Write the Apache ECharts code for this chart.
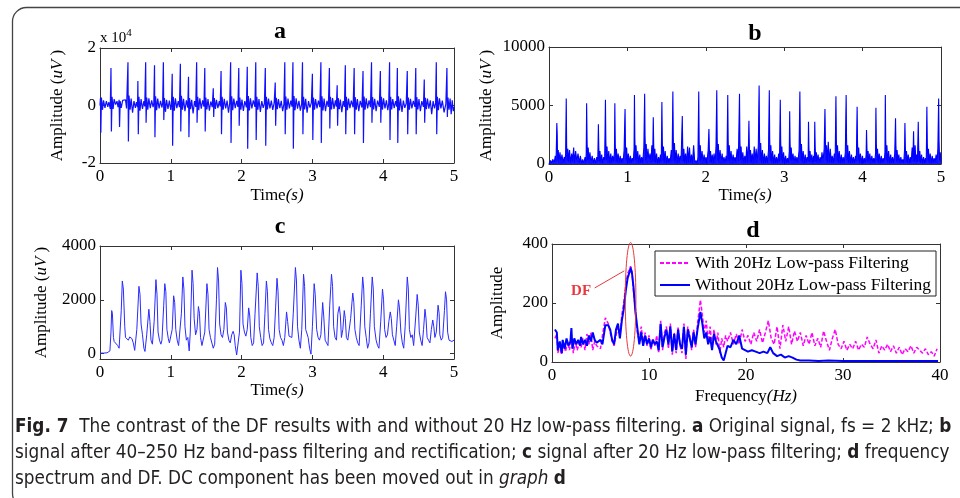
<!DOCTYPE html>
<html>
<head>
<meta charset="utf-8">
<script src="https://cdn.jsdelivr.net/npm/echarts@6.0.0/dist/echarts.min.js"></script>
<style>
  html, body { margin: 0; padding: 0; background: #fff; }
  #fig { width: 960px; height: 498px; }
</style>
</head>
<body>
<div id="fig"></div>
<script>
// ---- data ----
// a: original signal, [time s, amplitude uV]
var sigA = [[0,0],[0.006,2500],[0.012,-9500],[0.02,2800],[0.035,-1500],[0.05,1800],[0.07,-800],[0.09,1500],[0.11,-500],[0.125,1200],
  [0.145,-1200],[0.155,13000],[0.161,-9000],[0.17,3000],[0.185,-1200],[0.2,2200],[0.22,300],[0.24,1500],[0.255,-600],
  [0.27,2000],[0.276,-7500],[0.285,1500],[0.3,-800],[0.32,1800],[0.34,1200],[0.36,2000],[0.375,-1000],
  [0.39,-500],[0.395,15000],[0.401,-12500],[0.41,3500],[0.425,-1500],[0.44,2400],[0.46,-2500],[0.48,1500],[0.5,-800],[0.515,1200],
  [0.53,-600],[0.535,8500],[0.541,-10000],[0.55,3000],[0.565,-1800],[0.58,2200],[0.6,-1200],[0.62,1500],[0.632,-300],
  [0.645,15000],[0.651,-6000],[0.66,2800],[0.675,-1500],[0.69,2500],[0.71,-900],[0.73,1800],[0.75,-600],[0.76,800],
  [0.77,14000],[0.776,-11000],[0.785,3200],[0.8,-1600],[0.815,2400],[0.835,-1000],[0.855,1600],[0.875,-700],[0.885,900],
  [0.895,15000],[0.901,-5000],[0.91,2600],[0.925,-2200],[0.94,2000],[0.96,-1200],[0.98,1700],[1.0,-1500],[1.01,600],
  [1.02,11000],[1.026,-14000],[1.035,3000],[1.05,-1800],[1.065,2500],[1.085,-900],[1.105,1500],[1.122,-600],
  [1.135,14500],[1.141,-9000],[1.15,3400],[1.165,-1500],[1.18,2300],[1.2,-2000],[1.22,1800],[1.24,-700],
  [1.25,10000],[1.256,-11000],[1.265,2600],[1.28,-1300],[1.295,2000],[1.315,-2800],[1.335,1500],[1.352,-500],
  [1.365,15000],[1.371,-6000],[1.38,3000],[1.395,-1600],[1.41,2500],[1.43,-1100],[1.45,1800],[1.468,-400],
  [1.48,13000],[1.486,-9000],[1.495,2800],[1.51,-1400],[1.525,2200],[1.545,-1800],[1.565,1400],[1.585,-600],
  [1.6,6000],[1.606,-4000],[1.615,2600],[1.63,-1200],[1.645,2000],[1.665,-900],[1.685,1500],[1.698,-300],
  [1.71,12000],[1.716,-10000],[1.725,3000],[1.74,-1500],[1.755,2300],[1.775,-1000],[1.795,1700],[1.815,-2500],[1.832,800],
  [1.845,15000],[1.851,-13000],[1.86,3200],[1.875,-1600],[1.89,2400],[1.91,-900],[1.93,1600],[1.948,-500],
  [1.96,13000],[1.966,-7000],[1.975,2800],[1.99,-1500],[2.005,2100],[2.025,-1900],[2.045,1500],[2.068,-600],
  [2.08,13500],[2.086,-15000],[2.095,3300],[2.11,-1700],[2.125,2500],[2.145,-1000],[2.165,1800],[2.188,-500],
  [2.2,15000],[2.206,-12000],[2.215,3000],[2.23,-1500],[2.245,2200],[2.265,-2200],[2.285,1500],[2.305,-800],[2.322,700],
  [2.335,13000],[2.341,-14000],[2.35,3000],[2.365,-1400],[2.38,2400],[2.4,-1000],[2.42,1700],[2.44,-1500],[2.46,900],
  [2.475,8000],[2.481,-7000],[2.49,2700],[2.505,-1300],[2.52,2200],[2.54,-900],[2.56,1600],[2.58,-2000],[2.598,600],
  [2.61,15000],[2.616,-10000],[2.625,3100],[2.64,-1500],[2.655,2400],[2.675,-1000],[2.695,1700],[2.712,-400],
  [2.725,15000],[2.731,-15000],[2.74,3300],[2.755,-1600],[2.77,2500],[2.79,-1100],[2.81,1600],[2.83,-1800],[2.848,500],
  [2.86,15000],[2.866,-10000],[2.875,3000],[2.89,-1400],[2.905,2300],[2.925,-2500],[2.945,1500],[2.965,-700],[2.985,900],
  [3.0,11000],[3.006,-12000],[3.015,2800],[3.03,-1500],[3.045,2200],[3.065,-1000],[3.085,1700],[3.105,-600],
  [3.12,15000],[3.126,-13000],[3.135,3200],[3.15,-1700],[3.165,2400],[3.185,-2000],[3.205,1600],[3.225,-500],
  [3.24,13000],[3.246,-8000],[3.255,3000],[3.27,-1400],[3.285,2600],[3.305,-1200],[3.325,1800],[3.338,-400],
  [3.35,7000],[3.356,-7000],[3.365,2600],[3.38,-1300],[3.395,2100],[3.415,-2300],[3.435,1500],[3.452,-500],
  [3.465,14000],[3.471,-10000],[3.48,3000],[3.495,-1600],[3.51,2400],[3.53,-900],[3.55,1700],[3.575,-600],
  [3.59,13000],[3.596,-10000],[3.605,2900],[3.62,-1500],[3.635,2200],[3.655,-2000],[3.675,1600],[3.7,-700],
  [3.715,12000],[3.721,-13000],[3.73,3100],[3.745,-1500],[3.76,2500],[3.78,-1000],[3.8,1800],[3.82,-600],
  [3.835,15000],[3.841,-6000],[3.85,2900],[3.865,-1400],[3.88,2300],[3.9,-2000],[3.92,1700],[3.945,-500],
  [3.96,12000],[3.966,-6000],[3.975,3000],[3.99,-1500],[4.005,2500],[4.025,-1000],[4.045,1800],[4.065,-1600],[4.078,600],
  [4.09,15000],[4.096,-12000],[4.105,3000],[4.12,-1400],[4.135,2200],[4.155,-900],[4.175,1500],[4.19,-400],
  [4.2,13000],[4.206,-13000],[4.215,3200],[4.23,-1700],[4.245,2400],[4.265,-2200],[4.285,1700],[4.305,-800],[4.325,700],
  [4.34,12000],[4.346,-10000],[4.355,2800],[4.37,-1500],[4.385,2300],[4.405,-1000],[4.425,1600],[4.448,-500],
  [4.46,13000],[4.466,-10000],[4.475,2900],[4.49,-1400],[4.505,2200],[4.525,-2000],[4.545,1500],[4.568,-500],
  [4.58,9000],[4.586,-6000],[4.595,2700],[4.61,-1300],[4.625,2400],[4.645,-1100],[4.665,1800],[4.685,-3000],[4.705,1500],[4.725,-1000],[4.74,700],
  [4.75,15000],[4.756,-10000],[4.765,3000],[4.78,-1600],[4.795,2500],[4.815,-1000],[4.835,1700],[4.86,-2400],[4.885,600],
  [4.9,13000],[4.906,-4000],[4.915,2800],[4.93,-1500],[4.945,2400],[4.96,-3000],[4.975,1800],[4.99,-2000],[5.0,-500]];

// b: after band-pass filtering and rectification
var sigB = [[0,0],[0.02,300],[0.03,50],[0.05,400],[0.065,50],[0.08,700],
  [0.09,200],[0.1,3500],[0.104,2700],[0.11,300],[0.118,1200],[0.128,100],[0.14,1000],[0.152,50],[0.165,800],[0.18,100],[0.195,600],[0.205,100],
  [0.212,900],[0.22,5600],[0.225,1600],[0.232,300],[0.24,1300],[0.25,200],[0.262,1200],[0.275,100],[0.29,900],[0.3,200],[0.315,1400],[0.325,100],[0.34,1100],[0.355,200],[0.37,900],[0.385,100],[0.4,700],[0.415,50],[0.43,400],[0.445,50],[0.46,600],[0.47,100],
  [0.475,1000],[0.48,5200],[0.486,1800],[0.492,300],[0.5,1400],[0.51,100],[0.522,1000],[0.535,50],[0.55,700],[0.565,100],[0.58,500],[0.595,50],[0.61,600],[0.622,200],
  [0.63,3400],[0.635,1500],[0.642,200],[0.65,1100],[0.66,100],[0.672,800],[0.685,50],[0.698,600],[0.71,300],
  [0.72,5500],[0.725,2000],[0.732,300],[0.74,1500],[0.75,100],[0.762,1100],[0.775,50],[0.788,900],[0.8,100],[0.812,700],[0.825,200],[0.835,1000],
  [0.84,5200],[0.845,1700],[0.852,200],[0.86,1300],[0.87,100],[0.882,900],[0.895,50],[0.908,700],[0.92,100],[0.932,500],[0.945,100],[0.958,1200],
  [0.97,4700],[0.975,1600],[0.982,300],[0.99,1400],[1.0,100],[1.012,900],[1.025,50],[1.038,700],[1.05,100],[1.062,500],[1.075,200],[1.085,1300],
  [1.09,5900],[1.095,2200],[1.102,300],[1.11,1600],[1.12,100],[1.132,1100],[1.145,50],[1.158,800],[1.17,100],[1.182,600],[1.195,100],[1.21,1400],
  [1.22,6000],[1.225,2400],[1.232,300],[1.24,1700],[1.25,100],[1.262,1300],[1.275,200],[1.288,900],[1.3,100],[1.312,1600],[1.322,200],
  [1.33,4000],[1.335,1800],[1.342,200],[1.35,1300],[1.36,100],[1.372,900],[1.385,50],[1.398,600],[1.41,100],[1.422,800],[1.432,200],
  [1.44,5300],[1.445,2000],[1.452,300],[1.46,1500],[1.47,100],[1.482,1100],[1.495,50],[1.508,700],[1.52,100],[1.532,500],[1.545,100],[1.56,1200],[1.57,200],
  [1.58,6200],[1.585,2300],[1.592,300],[1.6,1800],[1.61,100],[1.622,1200],[1.635,50],[1.648,900],[1.66,100],[1.672,700],[1.685,300],
  [1.7,4100],[1.705,1700],[1.712,200],[1.72,1300],[1.73,100],[1.742,900],[1.755,50],[1.768,1500],[1.78,100],[1.792,1400],[1.805,100],[1.818,800],[1.83,50],[1.845,1600],[1.86,50],[1.875,300],[1.89,0],[1.9,600],
  [1.91,6200],[1.915,2000],[1.922,300],[1.93,1600],[1.94,100],[1.952,1100],[1.965,50],[1.978,800],[1.99,100],[2.002,600],[2.015,100],[2.03,1200],
  [2.04,3000],[2.045,1400],[2.052,200],[2.06,1100],[2.07,100],[2.082,800],[2.095,50],[2.105,900],[2.12,100],[2.13,1500],
  [2.14,6300],[2.145,2200],[2.152,300],[2.16,1700],[2.17,100],[2.182,1200],[2.195,50],[2.208,900],[2.22,100],[2.232,600],[2.245,100],[2.26,700],[2.27,200],
  [2.28,5900],[2.285,2100],[2.292,300],[2.3,1600],[2.31,100],[2.322,1100],[2.335,50],[2.348,800],[2.36,100],[2.372,600],[2.385,100],[2.4,1300],[2.415,200],
  [2.43,6000],[2.435,2000],[2.442,300],[2.45,1500],[2.46,100],[2.472,1000],[2.485,50],[2.498,700],[2.51,100],[2.522,1500],[2.535,100],[2.545,1800],
  [2.55,3700],[2.555,1600],[2.562,200],[2.57,1200],[2.58,100],[2.592,900],[2.605,50],[2.618,1500],[2.63,100],[2.642,1300],[2.655,100],[2.67,1600],
  [2.68,6700],[2.685,2400],[2.692,300],[2.7,1800],[2.71,100],[2.722,1200],[2.735,50],[2.748,900],[2.76,100],[2.772,700],[2.785,100],[2.8,1200],
  [2.81,6300],[2.815,2200],[2.822,300],[2.83,1600],[2.84,100],[2.852,1100],[2.865,50],[2.878,800],[2.89,100],[2.902,600],[2.915,100],[2.93,900],[2.94,200],
  [2.95,5500],[2.955,2000],[2.962,300],[2.97,1500],[2.98,100],[2.992,1000],[3.005,50],[3.018,700],[3.03,100],[3.042,500],[3.055,100],[3.065,1100],
  [3.07,4500],[3.075,1800],[3.082,300],[3.09,1400],[3.1,100],[3.112,900],[3.125,50],[3.138,700],[3.15,100],[3.162,600],[3.175,100],[3.19,1200],
  [3.2,6200],[3.205,2300],[3.212,300],[3.22,1700],[3.23,100],[3.242,1100],[3.255,50],[3.268,800],[3.28,100],[3.292,600],[3.305,200],
  [3.31,3600],[3.315,1500],[3.322,200],[3.33,1100],[3.34,100],[3.352,800],[3.365,50],[3.375,700],[3.385,200],
  [3.39,3600],[3.395,1500],[3.402,200],[3.41,1000],[3.42,100],[3.432,800],[3.445,50],[3.458,600],[3.47,100],[3.482,1000],[3.495,200],[3.51,1300],
  [3.52,4700],[3.525,2000],[3.532,300],[3.54,1600],[3.55,100],[3.562,1900],[3.575,100],[3.588,1300],[3.6,100],[3.612,700],[3.625,100],[3.64,900],[3.65,200],
  [3.66,5800],[3.665,2100],[3.672,300],[3.68,1600],[3.69,100],[3.702,1100],[3.715,50],[3.728,800],[3.74,100],[3.752,600],[3.765,100],[3.78,1000],
  [3.79,5900],[3.795,2200],[3.802,300],[3.81,1600],[3.82,100],[3.832,1100],[3.845,50],[3.858,800],[3.87,100],[3.882,600],[3.895,100],[3.91,700],[3.92,200],
  [3.93,4900],[3.935,1900],[3.942,300],[3.95,1400],[3.96,100],[3.972,900],[3.985,50],[3.998,700],[4.01,100],[4.022,500],[4.035,100],[4.045,800],
  [4.05,2900],[4.055,1400],[4.062,200],[4.07,1100],[4.08,100],[4.092,900],[4.105,50],[4.118,700],[4.13,100],[4.142,500],[4.155,100],[4.165,900],
  [4.17,4800],[4.175,1800],[4.182,300],[4.19,1300],[4.2,100],[4.212,900],[4.225,50],[4.238,700],[4.25,100],[4.262,500],[4.275,100],[4.285,1000],
  [4.29,5900],[4.295,2100],[4.302,300],[4.31,1600],[4.32,100],[4.332,1100],[4.345,50],[4.358,800],[4.37,100],[4.382,600],[4.395,100],[4.41,900],
  [4.42,3900],[4.425,1600],[4.432,200],[4.44,1200],[4.45,100],[4.462,800],[4.475,50],[4.488,600],[4.5,100],[4.512,400],[4.525,100],[4.535,1200],
  [4.54,3500],[4.545,1500],[4.552,200],[4.56,1100],[4.57,100],[4.582,800],[4.595,50],[4.608,600],[4.62,100],[4.632,1400],[4.642,200],
  [4.65,2800],[4.655,1200],[4.662,200],[4.67,1600],[4.68,100],[4.69,800],[4.7,200],
  [4.71,3600],[4.715,1500],[4.722,200],[4.73,1100],[4.74,100],[4.752,800],[4.765,50],[4.778,600],[4.79,100],[4.802,500],[4.812,100],
  [4.82,4900],[4.825,1800],[4.832,300],[4.84,1300],[4.85,100],[4.862,900],[4.875,50],[4.888,700],[4.9,100],[4.912,500],[4.925,100],[4.938,800],[4.95,100],[4.96,1300],
  [4.97,5600],[4.975,2000],[4.982,300],[4.99,1000],[5.0,200]];

// c: after 20 Hz low-pass filtering
var sigC = [[0,20],[0.05,20],[0.1,30],[0.12,50],[0.14,100],[0.155,800],[0.165,1600],[0.175,1500],[0.19,600],[0.2,450],[0.22,480],[0.25,300],[0.27,200],
  [0.3,1600],[0.315,2700],[0.33,2400],[0.35,1000],[0.36,600],[0.38,550],[0.4,500],[0.42,620],[0.45,560],[0.47,400],[0.49,120],[0.505,80],
  [0.52,900],[0.55,2500],[0.565,2200],[0.58,1100],[0.6,700],[0.62,200],[0.635,80],[0.66,700],[0.69,1650],[0.705,1200],[0.72,500],[0.74,350],
  [0.765,1200],[0.79,2750],[0.805,2200],[0.82,800],[0.84,500],[0.86,350],[0.875,500],[0.9,1800],[0.915,2600],[0.93,2300],[0.945,900],[0.965,550],[0.98,400],[1.0,350],
  [1.02,900],[1.04,2150],[1.055,1900],[1.07,900],[1.09,500],[1.11,300],[1.13,350],[1.15,1500],[1.17,2850],[1.185,2400],[1.2,1000],[1.22,500],[1.24,600],[1.26,100],
  [1.275,800],[1.3,3100],[1.315,2600],[1.33,1300],[1.35,700],[1.37,900],[1.39,1750],[1.405,1500],[1.42,600],[1.44,300],[1.46,250],[1.48,800],[1.51,2600],[1.525,2200],
  [1.54,900],[1.56,600],[1.58,550],[1.6,200],[1.62,350],[1.645,2000],[1.66,3200],[1.675,2700],[1.69,1100],[1.71,700],[1.73,600],[1.75,900],[1.77,1900],[1.785,1700],
  [1.8,800],[1.82,500],[1.84,400],[1.86,700],[1.88,830],[1.895,700],[1.91,300],[1.93,-50],[1.95,-120],[1.97,800],[1.99,3100],[2.005,2600],[2.02,1100],[2.04,800],
  [2.06,650],[2.08,900],[2.1,1700],[2.115,1400],[2.13,600],[2.15,300],[2.17,400],[2.19,1500],[2.22,3000],[2.235,2500],[2.25,1000],[2.27,600],[2.29,300],[2.31,400],
  [2.33,1500],[2.35,2700],[2.365,2300],[2.38,900],[2.4,550],[2.42,400],[2.44,300],[2.46,600],[2.48,1700],[2.5,2800],[2.515,2300],[2.53,900],[2.55,600],[2.57,500],
  [2.59,300],[2.61,600],[2.635,1550],[2.65,1200],[2.67,650],[2.69,700],[2.71,600],[2.73,1500],[2.76,3200],[2.775,2700],[2.79,1000],[2.81,500],[2.83,200],[2.85,900],
  [2.875,2950],[2.89,2500],[2.905,900],[2.925,900],[2.94,600],[2.96,200],[2.98,-20],[3.0,1000],[3.025,2600],[3.04,2200],[3.06,900],[3.08,600],[3.1,500],[3.12,700],
  [3.145,1900],[3.16,1400],[3.18,500],[3.2,400],[3.22,300],[3.245,1800],[3.27,2950],[3.285,2500],[3.3,1000],[3.32,600],[3.34,500],[3.36,1500],[3.38,1750],[3.395,1400],
  [3.41,600],[3.43,900],[3.45,1600],[3.465,1300],[3.48,600],[3.5,500],[3.52,550],[3.54,1300],[3.57,2250],[3.585,1900],[3.6,900],[3.62,600],[3.64,400],[3.66,300],
  [3.69,1800],[3.71,2850],[3.725,2400],[3.74,1000],[3.76,600],[3.78,200],[3.8,400],[3.82,1500],[3.845,2850],[3.86,2400],[3.875,1000],[3.9,500],[3.92,300],[3.94,200],
  [3.965,1200],[3.99,2400],[4.005,2000],[4.02,900],[4.04,600],[4.06,700],[4.08,1200],[4.1,1550],[4.115,1300],[4.13,700],[4.15,500],[4.17,300],[4.19,1000],[4.215,2000],
  [4.23,1700],[4.25,800],[4.27,400],[4.29,200],[4.31,1000],[4.34,2850],[4.355,2400],[4.37,900],[4.39,600],[4.41,700],[4.43,300],[4.46,1400],[4.48,2200],[4.495,1800],
  [4.51,800],[4.53,500],[4.55,300],[4.57,900],[4.59,1650],[4.605,1300],[4.62,600],[4.64,500],[4.66,400],[4.68,900],[4.7,1250],[4.715,1000],[4.73,600],[4.75,800],
  [4.775,1800],[4.79,1500],[4.8,700],[4.82,500],[4.84,600],[4.865,1600],[4.88,2300],[4.895,2000],[4.91,800],[4.93,500],[4.95,550],[4.97,450],[5.0,500]];

// d: frequency spectra, [Hz, amplitude]
var specWith = [[0.3,80],[0.5,95],[0.6,30],[0.8,55],[1.0,25],[1.2,60],[1.4,35],[1.6,70],[1.8,40],[2.0,90],[2.2,30],[2.4,70],[2.6,40],[2.8,65],[3.0,50],
  [3.2,80],[3.4,40],[3.6,95],[3.8,60],[4.0,100],[4.2,40],[4.4,70],[4.6,55],[4.8,50],[5.0,45],[5.2,90],[5.5,150],[5.8,130],[6.0,100],[6.2,70],[6.4,55],
  [6.6,90],[6.8,120],[7.0,85],[7.2,160],[7.4,200],[7.6,260],[7.8,300],[8.0,315],[8.1,325],[8.25,305],[8.4,240],[8.6,180],[8.8,100],[9.0,70],[9.2,120],
  [9.4,60],[9.6,100],[9.8,55],[10.0,90],[10.2,40],[10.4,80],[10.6,55],[10.8,90],[11.0,30],[11.2,140],[11.4,40],[11.6,100],[11.8,120],[12.0,45],[12.2,130],
  [12.4,25],[12.6,100],[12.8,30],[13.0,120],[13.2,55],[13.4,30],[13.6,130],[13.8,10],[14.0,120],[14.2,90],[14.4,40],[14.6,110],[14.8,50],[15.0,130],[15.3,210],
  [15.5,160],[15.7,100],[15.9,140],[16.1,70],[16.3,120],[16.5,50],[16.7,110],[16.9,60],[17.1,100],[17.3,30],[17.5,80],[17.7,50],[17.9,90],[18.1,70],[18.4,100],
  [18.7,60],[19.0,95],[19.3,60],[19.6,110],[19.9,70],[20.2,90],[20.5,60],[20.8,100],[21.1,70],[21.4,110],[21.7,65],[22.0,100],[22.3,140],[22.6,80],[22.9,60],
  [23.2,120],[23.5,45],[23.8,125],[24.1,70],[24.4,120],[24.7,60],[25.0,105],[25.3,70],[25.6,100],[25.9,55],[26.2,90],[26.5,60],[26.8,100],[27.1,55],[27.4,80],
  [27.7,50],[28.0,105],[28.3,70],[28.6,40],[28.9,80],[29.2,110],[29.5,60],[29.8,45],[30.1,70],[30.4,40],[30.7,60],[31.0,45],[31.3,70],[31.6,40],[31.9,60],
  [32.2,50],[32.5,85],[32.8,60],[33.1,45],[33.4,75],[33.7,30],[34.0,55],[34.3,40],[34.6,60],[34.9,35],[35.2,55],[35.5,30],[35.8,50],[36.1,25],[36.4,45],
  [36.7,35],[37.0,55],[37.3,30],[37.6,50],[37.9,40],[38.2,30],[38.5,45],[38.8,25],[39.1,35],[39.4,20],[39.7,45]];
var specWithout = [[0.3,110],[0.5,100],[0.6,40],[0.8,70],[1.0,30],[1.1,75],[1.3,45],[1.5,80],[1.7,55],[1.9,70],[2.0,115],[2.1,45],[2.3,80],[2.5,60],[2.7,75],
  [2.9,55],[3.0,85],[3.2,60],[3.4,75],[3.6,55],[3.8,90],[4.0,70],[4.2,100],[4.4,75],[4.6,65],[4.8,60],[5.0,75],[5.2,60],[5.5,125],[5.8,125],[6.0,110],
  [6.2,75],[6.4,60],[6.6,110],[6.8,130],[7.0,80],[7.2,140],[7.4,180],[7.6,240],[7.8,285],[8.0,305],[8.1,320],[8.25,300],[8.4,255],[8.6,170],[8.8,115],
  [9.0,60],[9.2,100],[9.4,55],[9.6,90],[9.8,60],[10.0,80],[10.2,50],[10.4,75],[10.6,60],[10.8,70],[11.0,40],[11.2,130],[11.4,50],[11.6,85],[11.8,110],
  [12.0,60],[12.2,120],[12.4,35],[12.6,95],[12.8,40],[13.0,110],[13.2,60],[13.4,45],[13.6,120],[13.8,25],[14.0,110],[14.2,80],[14.4,50],[14.6,100],[14.8,60],
  [15.0,110],[15.3,170],[15.5,130],[15.7,80],[15.9,100],[16.1,60],[16.3,85],[16.5,40],[16.7,95],[16.9,70],[17.1,75],[17.3,40],[17.5,15],[17.7,5],[17.9,30],
  [18.1,55],[18.4,50],[18.7,75],[19.0,60],[19.3,90],[19.6,45],[19.9,40],[20.2,35],[20.6,40],[21.0,35],[21.4,30],[21.8,35],[22.2,30],[22.5,50],[22.8,30],
  [23.2,20],[23.6,25],[24.0,15],[24.4,20],[24.8,15],[25.2,8],[25.6,5],[26.5,5],[27.5,3],[28.5,5],[30,3],[32,3],[34,3],[36,3],[38,3],[39.8,3]];

var legendNames = ['With 20Hz Low-pass Filtering', 'Without 20Hz Low-pass Filtering'];
var cTicks = [0, 2000, 4000];
// DF marker: dominant frequency and the ellipse drawn round it
var dfFreq = 8.1, dfHalfWidth = 0.55, dfLow = 20, dfHigh = 405;
var dfLabelAt = [3.0, 240], dfLineFrom = [4.4, 251], dfLineTo = [7.45, 309];

var serif = "'Liberation Serif', 'Times New Roman', serif";
var capFont = "'DejaVu Sans Condensed', 'Liberation Sans', sans-serif";
var capSize = 18.8;
var axisCol = '#333';
var plain = function (v) { return String(v); };

function xAx(grid, min, max, step, top, name, gap) {
  return {
    type: 'value', gridIndex: grid, min: min, max: max, interval: step,
    position: top ? 'top' : 'bottom',
    axisLine: { show: true, onZero: false, lineStyle: { color: axisCol, width: 1 } },
    axisTick: { show: true, inside: true, length: 4, lineStyle: { color: axisCol } },
    axisLabel: { show: !top, margin: 5, color: '#000', fontFamily: serif, fontSize: 17, formatter: plain },
    splitLine: { show: false },
    name: top ? '' : name, nameLocation: 'middle', nameGap: gap,
    nameTextStyle: { color: '#000', fontFamily: serif, fontSize: 17,
      rich: { i: { fontStyle: 'italic', fontFamily: serif, fontSize: 17, color: '#000' } } }
  };
}
function yAx(grid, min, max, step, right, name, gap, fmt) {
  return {
    type: 'value', gridIndex: grid, min: min, max: max, interval: step,
    position: right ? 'right' : 'left',
    axisLine: { show: true, onZero: false, lineStyle: { color: axisCol, width: 1 } },
    axisTick: { show: true, inside: true, length: 4, lineStyle: { color: axisCol } },
    axisLabel: { show: !right, margin: 4, color: '#000', fontFamily: serif, fontSize: 17, formatter: fmt || plain },
    splitLine: { show: false },
    name: right ? '' : name, nameLocation: 'middle', nameGap: gap,
    nameTextStyle: { color: '#000', fontFamily: serif, fontSize: 17,
      rich: { i: { fontStyle: 'italic', fontFamily: serif, fontSize: 17, color: '#000' } } }
  };
}

var ampName = 'Amplitude ({i|uV })';
var yC = yAx(2, -200, 4000, 2000, false, ampName, 50);
yC.axisLabel.customValues = cTicks;
yC.axisTick.customValues = cTicks;
var yCr = yAx(2, -200, 4000, 2000, true, '', 0);
yCr.axisLabel.customValues = cTicks;
yCr.axisTick.customValues = cTicks;

var option = {
  animation: false,
  backgroundColor: '#fff',
  grid: [
    { left: 100, top: 48, width: 354, height: 115 },
    { left: 549, top: 47, width: 392, height: 117 },
    { left: 100, top: 246, width: 354, height: 113 },
    { left: 552, top: 244, width: 388, height: 118 }
  ],
  xAxis: [
    xAx(0, 0, 5, 1, false, 'Time{i|(s)}', 24), xAx(0, 0, 5, 1, true),
    xAx(1, 0, 5, 1, false, 'Time{i|(s)}', 23), xAx(1, 0, 5, 1, true),
    xAx(2, 0, 5, 1, false, 'Time{i|(s)}', 20), xAx(2, 0, 5, 1, true),
    xAx(3, 0, 40, 10, false, 'Frequency{i|(Hz)}', 26), xAx(3, 0, 40, 10, true)
  ],
  yAxis: [
    yAx(0, -20000, 20000, 20000, false, ampName, 34, function (v) { return String(v / 10000); }),
    yAx(0, -20000, 20000, 20000, true, '', 0),
    yAx(1, 0, 10000, 5000, false, ampName, 54),
    yAx(1, 0, 10000, 5000, true, '', 0),
    yC, yCr,
    yAx(3, 0, 400, 200, false, 'Amplitude', 46),
    yAx(3, 0, 400, 200, true, '', 0)
  ],
  legend: {
    data: legendNames, left: 655, top: 251, orient: 'vertical',
    backgroundColor: '#fff', borderColor: '#222', borderWidth: 1,
    padding: [3, 5, 2, 4], itemGap: 4, itemWidth: 30, itemHeight: 12,
    itemStyle: { opacity: 0 },
    textStyle: { fontFamily: serif, fontSize: 17.5, color: '#000' }
  },
  series: [
    { type: 'line', xAxisIndex: 0, yAxisIndex: 0, data: sigA, symbol: 'none',
      lineStyle: { color: '#1010ff', width: 1.2 } },
    { type: 'line', xAxisIndex: 2, yAxisIndex: 2, data: sigB, symbol: 'none',
      lineStyle: { color: '#0000ff', width: 1.1 }, areaStyle: { color: '#0000ff', opacity: 0.9 } },
    { type: 'line', xAxisIndex: 4, yAxisIndex: 4, data: sigC, symbol: 'none',
      lineStyle: { color: '#2b2bff', width: 1 } },
    { name: legendNames[0], type: 'line', xAxisIndex: 6, yAxisIndex: 6, data: specWith, symbol: 'none',
      itemStyle: { color: '#ff00ff' }, lineStyle: { color: '#ff00ff', width: 1.5, type: [4, 2] } },
    { name: legendNames[1], type: 'line', xAxisIndex: 6, yAxisIndex: 6, data: specWithout, symbol: 'none',
      itemStyle: { color: '#0000ff' }, lineStyle: { color: '#0000ff', width: 2 } }
  ],
  graphic: [
    { id: 'frame', type: 'rect', z: 0, silent: true,
      shape: { x: 12.5, y: 7.5, width: 1000, height: 500, r: 14 },
      style: { fill: 'none', stroke: '#444', lineWidth: 1.3 } },
    { id: 'ta', type: 'text', x: 280, y: 32, style: { text: 'a', font: 'bold 24px ' + serif, fill: '#000', align: 'center', verticalAlign: 'middle' } },
    { id: 'tb', type: 'text', x: 755, y: 34, style: { text: 'b', font: 'bold 24px ' + serif, fill: '#000', align: 'center', verticalAlign: 'middle' } },
    { id: 'tc', type: 'text', x: 280, y: 227, style: { text: 'c', font: 'bold 24px ' + serif, fill: '#000', align: 'center', verticalAlign: 'middle' } },
    { id: 'td', type: 'text', x: 753, y: 231, style: { text: 'd', font: 'bold 24px ' + serif, fill: '#000', align: 'center', verticalAlign: 'middle' } },
    { id: 'exp', type: 'text', x: 100, y: 38, style: { text: 'x 10{s|4}', font: '15px ' + serif, fill: '#000', align: 'left', verticalAlign: 'middle',
      rich: { s: { fontSize: 11, fontFamily: serif, padding: [0, 0, 9, 0] } } } },
    { id: 'cap1', type: 'text', x: 15, y: 427, style: {
      text: '{b|Fig. 7}  The contrast of the DF results with and without 20 Hz low-pass filtering. {b|a} Original signal, fs = 2 kHz; {b|b}',
      font: capSize + 'px ' + capFont, fill: '#231f20', verticalAlign: 'middle',
      rich: { b: { fontWeight: 'bold', fontFamily: capFont, fontSize: capSize } } } },
    { id: 'cap2', type: 'text', x: 15, y: 453, style: {
      text: 'signal after 40\u2013250 Hz band-pass filtering and rectification; {b|c} signal after 20 Hz low-pass filtering; {b|d} frequency',
      font: capSize + 'px ' + capFont, fill: '#231f20', verticalAlign: 'middle',
      rich: { b: { fontWeight: 'bold', fontFamily: capFont, fontSize: capSize } } } },
    { id: 'cap3', type: 'text', x: 15, y: 479, style: {
      text: 'spectrum and DF. DC component has been moved out in {i|graph} {b|d}',
      font: capSize + 'px ' + capFont, fill: '#231f20', verticalAlign: 'middle',
      rich: { b: { fontWeight: 'bold', fontFamily: capFont, fontSize: capSize },
              i: { fontStyle: 'italic', fontFamily: capFont, fontSize: capSize } } } }
  ]
};

var chart = echarts.init(document.getElementById('fig'), null, { renderer: 'canvas' });
chart.setOption(option);

// DF annotation placed through the spectrum axes
var ax = { xAxisIndex: 6, yAxisIndex: 6 };
var c0 = chart.convertToPixel(ax, [dfFreq, (dfLow + dfHigh) / 2]);
var c1 = chart.convertToPixel(ax, [dfFreq + dfHalfWidth, dfHigh]);
var pl = chart.convertToPixel(ax, dfLabelAt);
var p1 = chart.convertToPixel(ax, dfLineFrom);
var p2 = chart.convertToPixel(ax, dfLineTo);
chart.setOption({ graphic: [
  { id: 'dfEll', type: 'ellipse', z: 10, shape: { cx: c0[0], cy: c0[1], rx: c1[0] - c0[0], ry: c0[1] - c1[1] },
    style: { fill: 'none', stroke: '#e8383d', lineWidth: 1 } },
  { id: 'dfLine', type: 'line', z: 10, shape: { x1: p1[0], y1: p1[1], x2: p2[0], y2: p2[1] },
    style: { stroke: '#e8383d', lineWidth: 1 } },
  { id: 'dfText', type: 'text', z: 10, x: pl[0], y: pl[1],
    style: { text: 'DF', font: 'bold 15px ' + serif, fill: '#e8383d', align: 'center', verticalAlign: 'middle' } }
] });
</script>
</body>
</html>
